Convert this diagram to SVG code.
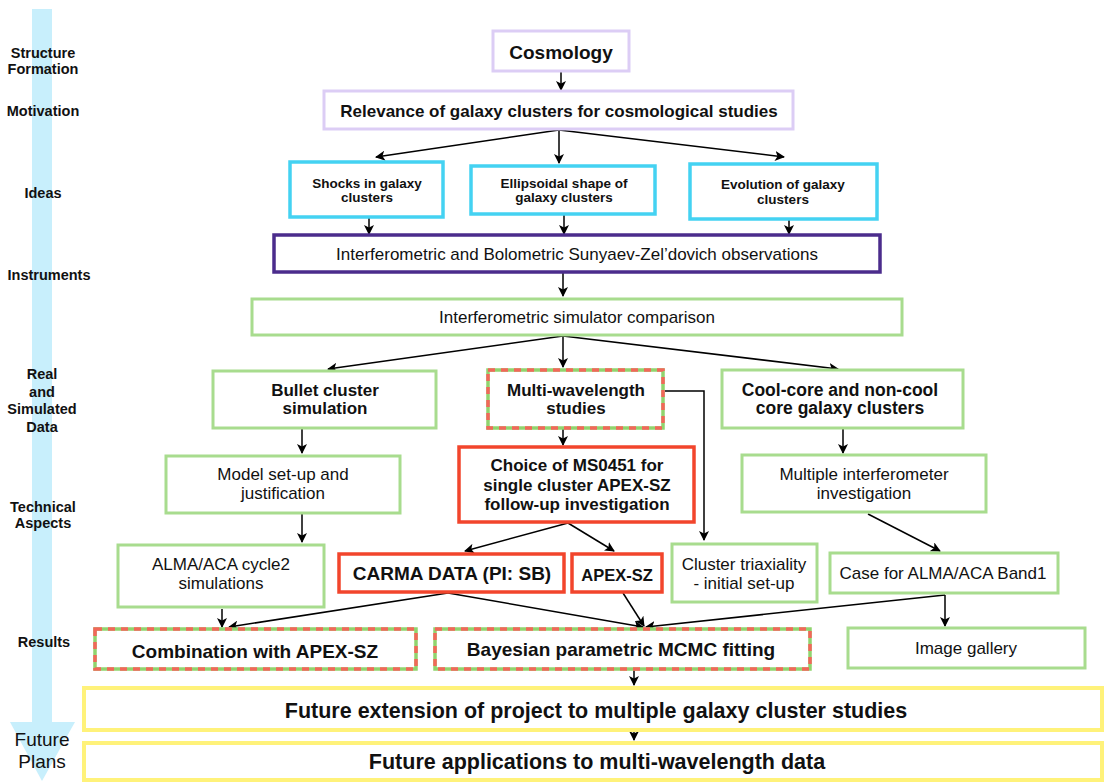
<svg xmlns="http://www.w3.org/2000/svg" width="1106" height="782" viewBox="0 0 1106 782">
<defs>
<marker id="ah" viewBox="0 0 10 10" refX="9" refY="5" markerWidth="10" markerHeight="10" markerUnits="userSpaceOnUse" orient="auto">
<path d="M0,0 L10,5 L0,10 L2.5,5 z" fill="#000"/>
</marker>
<style>
.lp{fill:#fff;stroke:#dccdf5;stroke-width:3}
.cy{fill:#fff;stroke:#44d2f2;stroke-width:3.5}
.dp{fill:#fff;stroke:#4b2c8c;stroke-width:3.5}
.gr{fill:#fff;stroke:#a8dc8e;stroke-width:3}
.rd{fill:#fff;stroke:#f2452c;stroke-width:3.5}
.dg{fill:#fff;stroke:#90d46e;stroke-width:3.5}
.dr{fill:none;stroke:#f2675a;stroke-width:3.5;stroke-dasharray:7 6}
.yl{fill:#fff;stroke:#fff27a;stroke-width:4}
.c{stroke:#000;stroke-width:1.5;fill:none;marker-end:url(#ah)}
text{font-family:"Liberation Sans",Arial,sans-serif;fill:#111;text-anchor:middle}
.b{font-weight:bold}
.lab{font-weight:bold;font-size:14.5px}
.lab2{font-size:19px}
</style>
</defs>
<rect width="1106" height="782" fill="#fff"/>
<g id="timeline">
<rect x="32" y="9" width="20" height="714" fill="#c8effc"/>
<polygon points="10,722 75,722 42,781" fill="#c8effc"/>
<text class="lab" x="43" y="58">Structure</text>
<text class="lab" x="43" y="74">Formation</text>
<text class="lab" x="43" y="116">Motivation</text>
<text class="lab" x="43" y="198">Ideas</text>
<text class="lab" x="49" y="280">Instruments</text>
<text class="lab" x="42" y="379">Real</text>
<text class="lab" x="42" y="397">and</text>
<text class="lab" x="42" y="414">Simulated</text>
<text class="lab" x="42" y="432">Data</text>
<text class="lab" x="43" y="512">Technical</text>
<text class="lab" x="43" y="528">Aspects</text>
<text class="lab" x="44" y="647">Results</text>
<text class="lab2" x="42" y="746">Future</text>
<text class="lab2" x="42" y="768">Plans</text>
</g>
<g id="connectors">
<path class="c" d="M561,72 L561,90"/>
<path class="c" d="M559,130 L376,157"/>
<path class="c" d="M559,130 L559,163"/>
<path class="c" d="M559,130 L784,157"/>
<path class="c" d="M369,218 L369,234"/>
<path class="c" d="M564,215 L564,234"/>
<path class="c" d="M789,220 L789,234"/>
<path class="c" d="M563,273 L563,296"/>
<path class="c" d="M563,336 L328,369"/>
<path class="c" d="M563,336 L563,367"/>
<path class="c" d="M563,336 L838,369"/>
<path class="c" d="M302,429 L302,453"/>
<path class="c" d="M302,514 L302,542"/>
<path class="c" d="M563,429 L563,445"/>
<path class="c" d="M665,391 L704,391 L704,540"/>
<path class="c" d="M843,429 L843,453"/>
<path class="c" d="M568,523 L465,551"/>
<path class="c" d="M568,523 L614,551"/>
<path class="c" d="M868,514 L940,551"/>
<path class="c" d="M222,609 L222,627"/>
<path class="c" d="M448,593 L229,627"/>
<path class="c" d="M448,593 L643,627"/>
<path class="c" d="M623,593 L644,626"/>
<path class="c" d="M945,595 L646,627"/>
<path class="c" d="M945,595 L945,626"/>
<path class="c" d="M634,670 L634,685"/>
<path class="c" d="M634,731 L634,740"/>
</g>
<g id="n-cosmology"><rect class="lp" x="493" y="31" width="136" height="40"/><text class="b" x="561" y="58.5" font-size="19">Cosmology</text></g>
<g id="n-relevance"><rect class="lp" x="324" y="91" width="469" height="38"/><text class="b" x="559" y="116.5" font-size="17">Relevance of galaxy clusters for cosmological studies</text></g>
<g id="n-shocks"><rect class="cy" x="290" y="162" width="153" height="55"/><text class="b" font-size="13.5"><tspan x="367" y="188">Shocks in galaxy</tspan><tspan x="367" y="202">clusters</tspan></text></g>
<g id="n-ellipsoidal"><rect class="cy" x="471" y="166" width="184" height="48"/><text class="b" font-size="13.5"><tspan x="564" y="188">Ellipsoidal shape of</tspan><tspan x="564" y="202">galaxy clusters</tspan></text></g>
<g id="n-evolution"><rect class="cy" x="690" y="164" width="187" height="55"/><text class="b" font-size="13.5"><tspan x="783" y="189">Evolution of galaxy</tspan><tspan x="783" y="204">clusters</tspan></text></g>
<g id="n-interf"><rect class="dp" x="274" y="235" width="606" height="37"/><text x="577" y="260" font-size="17">Interferometric and Bolometric Sunyaev-Zel’dovich observations</text></g>
<g id="n-simulator"><rect class="gr" x="252" y="299" width="650" height="36"/><text x="577" y="323" font-size="17">Interferometric simulator comparison</text></g>
<g id="n-bullet"><rect class="gr" x="213" y="371" width="223" height="57"/><text class="b" font-size="17"><tspan x="325" y="396">Bullet cluster</tspan><tspan x="325" y="414">simulation</tspan></text></g>
<g id="n-multi"><rect class="dg" x="488" y="370" width="175" height="58"/><rect class="dr" x="488" y="370" width="175" height="58"/><text class="b" font-size="17"><tspan x="576" y="396">Multi-wavelength</tspan><tspan x="576" y="414">studies</tspan></text></g>
<g id="n-coolcore"><rect class="gr" x="722" y="370" width="241" height="58"/><text class="b" font-size="17.5"><tspan x="840" y="396">Cool-core and non-cool</tspan><tspan x="840" y="414">core galaxy clusters</tspan></text></g>
<g id="n-model"><rect class="gr" x="166" y="456" width="234" height="57"/><text font-size="17"><tspan x="283" y="480">Model set-up and</tspan><tspan x="283" y="499">justification</tspan></text></g>
<g id="n-choice"><rect class="rd" x="459" y="447" width="235" height="75"/><text class="b" font-size="17"><tspan x="577" y="471">Choice of MS0451 for</tspan><tspan x="577" y="491">single cluster APEX-SZ</tspan><tspan x="577" y="510">follow-up investigation</tspan></text></g>
<g id="n-multiple"><rect class="gr" x="742" y="455" width="244" height="57"/><text font-size="17"><tspan x="864" y="480">Multiple interferometer</tspan><tspan x="864" y="499">investigation</tspan></text></g>
<g id="n-almacycle"><rect class="gr" x="118" y="545" width="206" height="62"/><text font-size="17"><tspan x="221" y="570">ALMA/ACA cycle2</tspan><tspan x="221" y="589">simulations</tspan></text></g>
<g id="n-carma"><rect class="rd" x="339" y="554" width="225" height="38"/><text class="b" x="452" y="580" font-size="19">CARMA DATA (PI: SB)</text></g>
<g id="n-apexsz"><rect class="rd" x="572" y="554" width="90" height="38"/><text class="b" x="617" y="581" font-size="16.5">APEX-SZ</text></g>
<g id="n-triax"><rect class="gr" x="672" y="544" width="145" height="58"/><text font-size="17"><tspan x="744" y="570">Cluster triaxiality</tspan><tspan x="744" y="589">- initial set-up</tspan></text></g>
<g id="n-case"><rect class="gr" x="830" y="553" width="228" height="40"/><text x="943" y="579" font-size="17">Case for ALMA/ACA Band1</text></g>
<g id="n-gallery"><rect class="gr" x="848" y="628" width="237" height="40"/><text x="966" y="654" font-size="17">Image gallery</text></g>
<g id="n-combination"><rect class="dg" x="95" y="629" width="321" height="40"/><rect class="dr" x="95" y="629" width="321" height="40"/><text class="b" x="255" y="658" font-size="19">Combination with APEX-SZ</text></g>
<g id="n-bayesian"><rect class="dg" x="435" y="629" width="375" height="40"/><rect class="dr" x="435" y="629" width="375" height="40"/><text class="b" x="621" y="656" font-size="19">Bayesian parametric MCMC fitting</text></g>
<g id="n-future1"><rect class="yl" x="84" y="688" width="1018" height="42"/><text class="b" x="596" y="718" font-size="21.5">Future extension of project to multiple galaxy cluster studies</text></g>
<g id="n-future2"><rect class="yl" x="84" y="743" width="1018" height="37"/><text class="b" x="597" y="769" font-size="21.5">Future applications to multi-wavelength data</text></g>
</svg>
